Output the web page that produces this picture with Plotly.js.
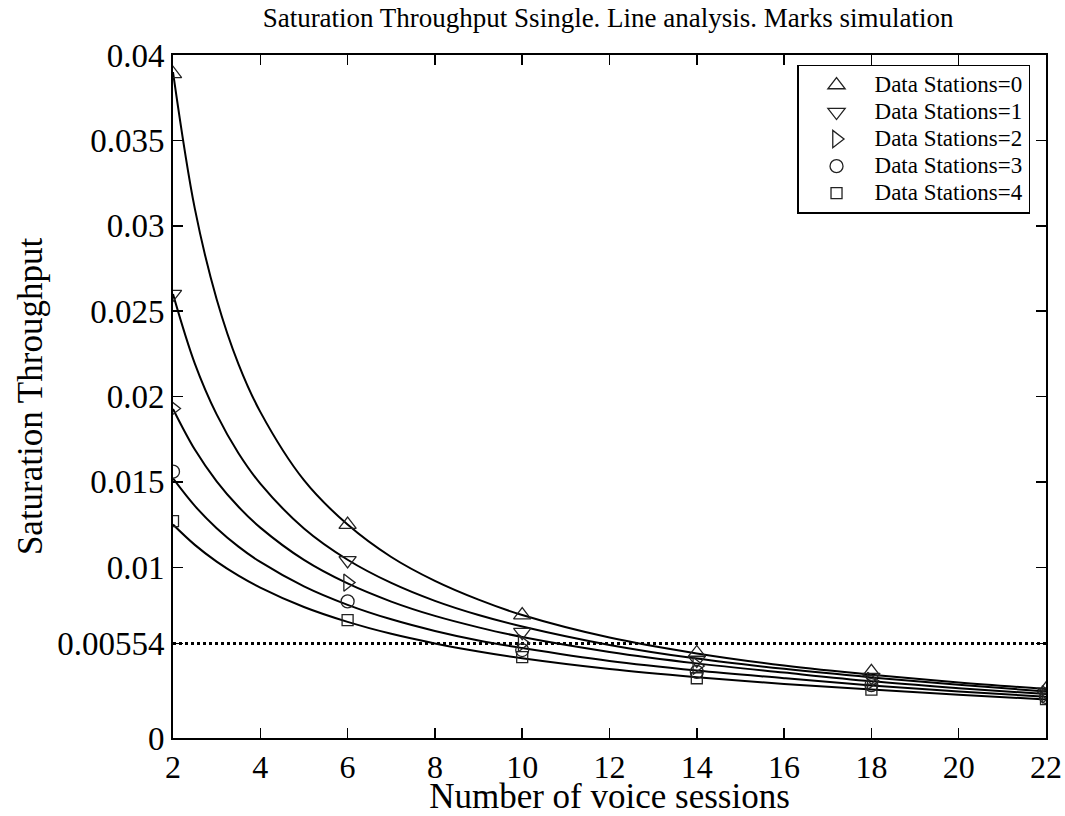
<!DOCTYPE html>
<html>
<head>
<meta charset="utf-8">
<script src="https://cdn.plot.ly/plotly-3.0.1.min.js"></script>
<style>html,body{margin:0;padding:0;background:#fff;}#chart{width:1065px;height:816px;}</style>
</head>
<body>
<div id="chart"></div>
<script>
// Analysis curves (lines)
const lineX = [2, 2.5, 3, 3.5, 4, 5, 6, 7, 8, 9, 10, 12, 14, 16, 18, 20, 22];
const line0 = [0.0390, 0.0310, 0.0257, 0.0219, 0.0191, 0.0151, 0.0125, 0.0106, 0.0092, 0.0081, 0.0072, 0.00588, 0.00495, 0.00424, 0.00370, 0.00325, 0.00287];
const line1 = [0.0260, 0.02193, 0.01895, 0.01668, 0.01490, 0.01227, 0.01044, 0.00908, 0.00803, 0.00720, 0.00653, 0.00545, 0.00465, 0.00405, 0.00355, 0.00312, 0.00272];
const line2 = [0.01927, 0.01689, 0.01503, 0.01354, 0.01232, 0.01043, 0.00905, 0.00799, 0.00715, 0.00648, 0.00591, 0.00504, 0.00437, 0.00383, 0.00332, 0.00292, 0.00257];
const line3 = [0.0152, 0.01359, 0.01229, 0.01121, 0.01031, 0.00888, 0.00780, 0.00695, 0.00627, 0.00571, 0.00527, 0.00451, 0.00395, 0.00350, 0.00307, 0.00272, 0.00242];
const line4 = [0.0125, 0.01131, 0.01033, 0.00951, 0.00881, 0.00767, 0.00680, 0.00610, 0.00554, 0.00507, 0.00467, 0.00404, 0.00356, 0.00316, 0.00284, 0.00254, 0.00226];

// Simulation marks
const simX = [2, 6, 10, 14, 18, 22];
const sim0 = [0.0389, 0.0125, 0.0072, 0.00498, 0.00387, 0.00285];
const sim1 = [0.0260, 0.0104, 0.0062, 0.00457, 0.00357, 0.00270];
const sim2 = [0.0193, 0.0091, 0.00556, 0.00422, 0.00334, 0.00255];
const sim3 = [0.0156, 0.0080, 0.00515, 0.00387, 0.00310, 0.00240];
const sim4 = [0.0127, 0.0069, 0.00474, 0.00350, 0.00283, 0.00228];

const seriesNames = ['Data Stations=0', 'Data Stations=1', 'Data Stations=2', 'Data Stations=3', 'Data Stations=4'];
const symbols = ['triangle-up-open', 'triangle-down-open', 'triangle-right-open', 'circle-open', 'square-open'];
const markerSizes = [15, 15, 15, 13, 11];

const thresholdX = [2, 22];
const thresholdY = [0.00554, 0.00554];

const xTicks = [2, 4, 6, 8, 10, 12, 14, 16, 18, 20, 22];
const yTicks = [0, 0.00554, 0.01, 0.015, 0.02, 0.025, 0.03, 0.035, 0.04];
const yTickText = ['0', '0.00554', '0.01', '0.015', '0.02', '0.025', '0.03', '0.035', '0.04'];

const lines = [line0, line1, line2, line3, line4];
const sims = [sim0, sim1, sim2, sim3, sim4];

const FONT = 'Liberation Serif, Times New Roman, serif';
const traces = [];
lines.forEach(function (ys) {
  traces.push({
    x: lineX, y: ys, type: 'scatter', mode: 'lines',
    line: {color: '#000', width: 2, shape: 'spline', smoothing: 1},
    showlegend: false, hoverinfo: 'skip'
  });
});
traces.push({
  x: thresholdX, y: thresholdY, type: 'scatter', mode: 'lines',
  line: {color: '#000', width: 3, dash: 'dot'}, showlegend: false
});
sims.forEach(function (ys, i) {
  traces.push({
    x: simX, y: ys, type: 'scatter', mode: 'markers',
    name: '<span style="font-size:23px">' + seriesNames[i] + '</span>',
    marker: {symbol: symbols[i], size: markerSizes[i], color: '#222', line: {color: '#222', width: 1.3}}
  });
});

const layout = {
  width: 1065, height: 816,
  margin: {l: 173, r: 19, t: 55, b: 78},
  paper_bgcolor: '#fff', plot_bgcolor: '#fff',
  font: {family: FONT, color: '#000'},
  title: {text: 'Saturation Throughput Ssingle. Line analysis. Marks simulation',
          font: {family: FONT, size: 27, color: '#000'}, x: 0.571, xanchor: 'center', y: 0.978, yanchor: 'middle'},
  xaxis: {
    range: [2, 22], tickvals: xTicks, ticktext: xTicks.map(String),
    ticks: 'inside', ticklen: 10, tickwidth: 1.5, tickcolor: '#000',
    showline: true, linecolor: '#000', linewidth: 2, mirror: 'ticks',
    showgrid: false, zeroline: false,
    tickfont: {family: FONT, size: 32, color: '#000'},
    title: {text: 'Number of voice sessions', font: {family: FONT, size: 35, color: '#000'}, standoff: 7}
  },
  yaxis: {
    range: [0, 0.04], tickvals: yTicks, ticktext: yTickText,
    ticks: 'inside', ticklen: 10, tickwidth: 1.5, tickcolor: '#000',
    showline: true, linecolor: '#000', linewidth: 2, mirror: 'ticks',
    showgrid: false, zeroline: false,
    tickfont: {family: FONT, size: 33, color: '#000'},
    title: {text: 'Saturation Throughput', font: {family: FONT, size: 35, color: '#000'}, standoff: 4}
  },
  legend: {
    x: 0.7148, y: 0.9854, xanchor: 'left', yanchor: 'top',
    bgcolor: '#fff', bordercolor: '#000', borderwidth: 1.5,
    font: {family: FONT, size: 18.5, color: '#000'},
    itemwidth: 66, tracegroupgap: 0
  },
  showlegend: true
};

Plotly.newPlot('chart', traces, layout, {displayModeBar: false, staticPlot: true});
</script>
</body>
</html>
